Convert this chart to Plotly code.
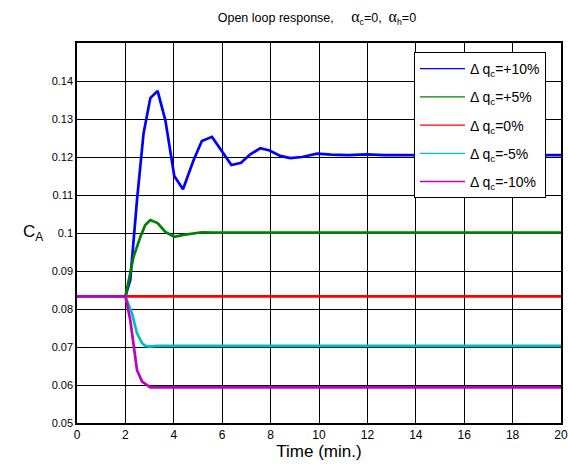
import plotly.graph_objects as go

# ---- data ----
t_p10 = [0, 2.0, 2.2, 2.48, 2.75, 3.03, 3.33, 3.65, 4.02, 4.38, 4.82, 5.16, 5.58, 6.38, 6.78,
         7.16, 7.57, 7.96, 8.4, 8.81, 9.3, 9.92, 10.5, 11.2, 11.98, 12.7, 13.7, 20]
c_p10 = [0.0833, 0.0833, 0.0876, 0.1087, 0.1262, 0.1355, 0.1374, 0.1297, 0.1150, 0.1115, 0.1192,
         0.1242, 0.1253, 0.1179, 0.1185, 0.1207, 0.1223, 0.1217, 0.1203, 0.1197, 0.1200, 0.1209,
         0.1206, 0.1205, 0.1207, 0.1205, 0.1205, 0.1205]

t_p5 = [0, 2.0, 2.34, 2.62, 2.82, 3.03, 3.33, 3.65, 4.02, 4.4, 5.16, 5.6, 20]
c_p5 = [0.0833, 0.0833, 0.0938, 0.0990, 0.1021, 0.1034, 0.1026, 0.1003, 0.0990, 0.0995, 0.1002,
        0.1001, 0.1001]

t_0 = [0, 20]
c_0 = [0.0833, 0.0833]

t_m5 = [0, 2.0, 2.27, 2.48, 2.69, 2.82, 3.0, 3.3, 20]
c_m5 = [0.0833, 0.0833, 0.0789, 0.0736, 0.0710, 0.0703, 0.0701, 0.0703, 0.0703]

t_m10 = [0, 2.0, 2.2, 2.34, 2.48, 2.69, 3.03, 20]
c_m10 = [0.0833, 0.0833, 0.0771, 0.0701, 0.0639, 0.0609, 0.0594, 0.0594]

sub_c = "<sub style='font-size:13px'>c</sub>"
labels = ["Δ q" + sub_c + "=+10%", "Δ q" + sub_c + "=+5%", "Δ q" + sub_c + "=0%",
          "Δ q" + sub_c + "=-5%", "Δ q" + sub_c + "=-10%"]
colors = ["#0000ff", "#008000", "#ff0000", "#00bfbf", "#bf00bf"]

x_ticks = list(range(0, 21, 2))
y_ticks = [0.05, 0.06, 0.07, 0.08, 0.09, 0.1, 0.11, 0.12, 0.13, 0.14]
y_tick_text = ["0.05", "0.06", "0.07", "0.08", "0.09", "0.1", "0.11", "0.12", "0.13", "0.14"]

series = [(t_p10, c_p10), (t_p5, c_p5), (t_0, c_0), (t_m5, c_m5), (t_m10, c_m10)]

fig = go.Figure()
for i in [2, 0, 1, 3, 4]:
    t, c = series[i]
    fig.add_trace(go.Scatter(x=t, y=c, mode="lines", line=dict(color=colors[i], width=2.7),
                             showlegend=False, hoverinfo="skip"))
for i in range(5):
    fig.add_trace(go.Scatter(x=[None], y=[None], mode="lines", name=labels[i],
                             line=dict(color=colors[i], width=1.3),
                             legendgroup=str(i), showlegend=True))

alpha = "<span style='font-family:Liberation Serif;font-size:16px'>α</span>"
sub_s = lambda s: "<sub style='font-size:12px'>" + s + "</sub>"
sp = "&#160;"

fig.update_layout(
    width=568, height=468,
    margin=dict(l=77, r=7, t=43, b=45),
    paper_bgcolor="white", plot_bgcolor="white",
    font=dict(family="Liberation Sans, Arial", color="black", size=11),
    title=dict(text="Open loop response," + sp * 5 + alpha + sub_s("c") + "=0," + sp * 2 + alpha + sub_s("h") + "=0",
               x=0.558, xanchor="center", y=0.962, yanchor="middle",
               font=dict(size=12.5, family="Liberation Sans, Arial")),
    legend=dict(x=0.969, xanchor="right", y=0.976, yanchor="top",
                bgcolor="white", bordercolor="black", borderwidth=1,
                font=dict(size=14, family="Liberation Sans, Arial"),
                tracegroupgap=7, traceorder="grouped", itemwidth=45),
    showlegend=True,
    annotations=[dict(text="C<sub>A</sub>", xref="paper", yref="paper", x=-0.091, y=0.5,
                      xanchor="center", yanchor="middle", showarrow=False,
                      font=dict(size=17, family="Liberation Sans, Arial"))],
)
fig.update_xaxes(range=[0, 20], tickvals=x_ticks, showgrid=True, gridcolor="black", gridwidth=1.3,
                 showline=True, linecolor="black", linewidth=1.5, mirror=True, zeroline=False,
                 ticks="", tickfont=dict(size=12), automargin=False,
                 title=dict(text="Time (min.)", font=dict(size=17), standoff=2))
fig.update_yaxes(range=[0.05, 0.15], tickvals=y_ticks, ticktext=y_tick_text, showgrid=True,
                 gridcolor="black", gridwidth=1.3, showline=True, linecolor="black", linewidth=1.5,
                 mirror=True, zeroline=False, ticks="", tickfont=dict(size=11), automargin=False)

fig.write_html("out.html", config={"displayModeBar": False},
               post_script="document.body.style.margin='0px';document.body.style.overflow='hidden';")
